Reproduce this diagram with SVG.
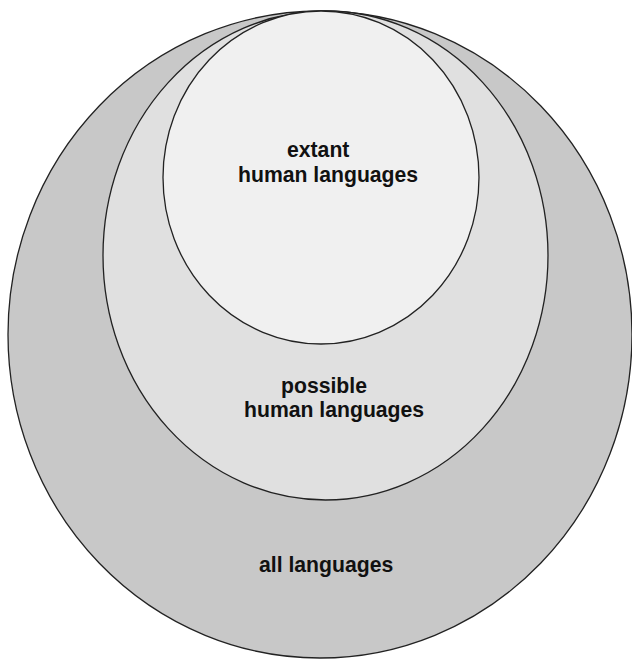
<svg xmlns="http://www.w3.org/2000/svg" width="632" height="660" viewBox="0 0 632 660">
<style>
.set{stroke:#222;stroke-width:1.3}
.lbl{font-family:"Liberation Sans",Arial,sans-serif;font-size:21.2px;font-weight:bold;fill:#111}
</style>
<rect width="632" height="660" fill="#fff"/>
<g id="all">
<ellipse class="set" cx="320" cy="334.5" rx="312" ry="323.5" fill="#c8c8c8"/>
<text class="lbl" x="259" y="572">all languages</text>
</g>
<g id="possible">
<ellipse class="set" cx="325.5" cy="255.5" rx="222.5" ry="244.5" fill="#e0e0e0"/>
<text class="lbl" x="281" y="393">possible</text>
<text class="lbl" x="244" y="417">human languages</text>
</g>
<g id="extant">
<ellipse class="set" cx="321" cy="177.5" rx="158" ry="166.5" fill="#f0f0f0"/>
<text class="lbl" x="287" y="157">extant</text>
<text class="lbl" x="238" y="182">human languages</text>
</g>
<g id="connectors"/>
</svg>
